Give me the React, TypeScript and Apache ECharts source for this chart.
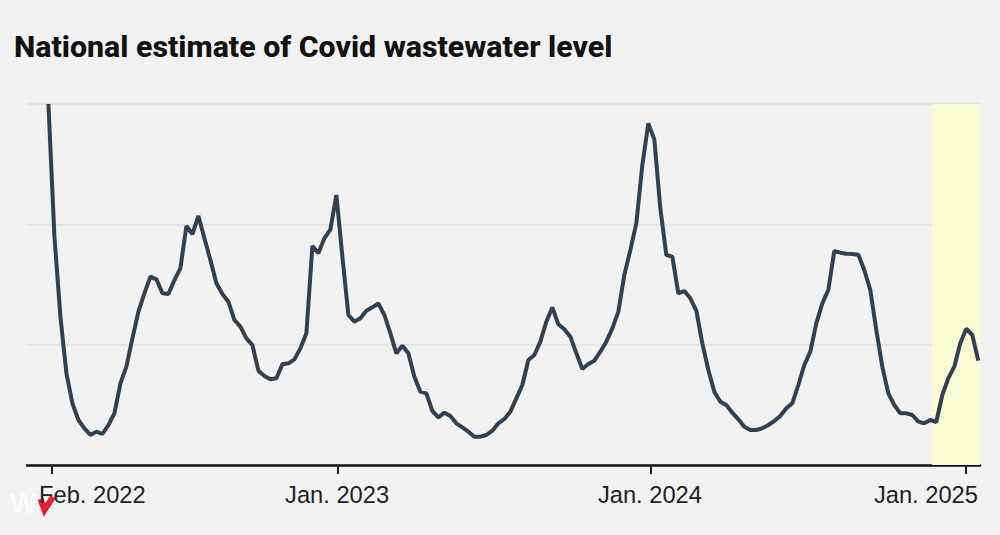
import React, { useEffect, useRef } from "react";
import * as echarts from "echarts";

const TITLE = "National estimate of Covid wastewater level";
const FIRST_WEEK = "2022-01-29";
// Relative wastewater level, one reading per week (the source's y axis carries no numbers)
const levels2022 = [1083,685,445,275,185,135,110,90,100,93,120,155,245,295,380,460,515,565,557,515,513,555,590,717,693,747,680,615,545,513,490,435,415,380,360,283,267,257,260,302,305,317,350,395,657,635,680,707];
const levels2023 = [810,625,450,430,440,463,473,485,450,395,335,358,335,265,220,215,162,143,157,147,125,113,100,85,85,90,103,125,138,160,200,240,315,330,370,430,473,422,407,385,335,288,303,313,340,370,410,460,570,645,725,900];
const levels2024 = [1025,977,770,630,625,515,522,500,463,365,285,220,190,180,157,137,115,105,105,110,120,132,147,170,185,240,300,340,425,485,525,642,637,634,633,631,585,525,405,295,215,180,155,155,150,130,125,135,129,210,260,295,365,409,390,313];
const levels = [...levels2022, ...levels2023, ...levels2024];
const tickDates = ["2022-02-02", "2023-01-02", "2024-01-02", "2025-01-03"];
const tickLabels = ["Feb. 2022", "Jan. 2023", "Jan. 2024", "Jan. 2025"];
const axisStart = "2022-01-04";
const axisEnd = "2025-01-20";
const highlightStart = "2024-11-25";
const yTop = 1083;
const yStep = 361;

const DAY = 86400000;
const t = (s: string) => Date.parse(s + "T00:00:00Z");

export default function App() {
  const ref = useRef<HTMLDivElement>(null);
  useEffect(() => {
    document.body.style.margin = "0";
    const chart = echarts.init(ref.current!, undefined, { renderer: "svg" });
    const data = levels.map((v, i) => [t(FIRST_WEEK) + i * 7 * DAY, v]);
    const ticks = tickDates.map(t);
    const labelStyle = { color: "#222", fontSize: 23.7, fontFamily: "Liberation Sans" };
    chart.setOption({
      animation: false,
      backgroundColor: "#f2f2f2",
      title: {
        text: TITLE,
        left: 14,
        top: 31,
        padding: 0,
        textStyle: { color: "#121212", fontSize: 30.3, fontWeight: 800, fontFamily: "Roboto" },
      },
      grid: { left: 27, right: 20, top: 104, bottom: 70 },
      xAxis: {
        type: "value",
        min: t(axisStart),
        max: t(axisEnd),
        axisLine: { show: true, onZero: false, lineStyle: { color: "#111", width: 2.5 } },
        axisTick: { show: true, customValues: ticks, length: 9, lineStyle: { color: "#222", width: 2 } },
        axisLabel: {
          show: true,
          customValues: ticks,
          margin: 18,
          hideOverlap: false,
          showMinLabel: true,
          showMaxLabel: true,
          formatter: (v: number) => {
            const i = ticks.indexOf(v);
            const key = i === 0 ? "first" : i === 3 ? "last" : "mid";
            return `{${key}|${tickLabels[i]}}`;
          },
          rich: {
            mid: { ...labelStyle, padding: [0, 2, 0, 0] },
            first: { ...labelStyle, padding: [0, 0, 0, 81] },
            last: { ...labelStyle, padding: [0, 79, 0, 0] },
          },
        },
        splitLine: { show: false },
      },
      yAxis: {
        type: "value",
        min: 0,
        max: yTop,
        interval: yStep,
        axisLine: { show: false },
        axisTick: { show: false },
        axisLabel: { show: false },
        splitLine: { show: true, lineStyle: { color: "#e4e4e4", width: 2 } },
      },
      series: [
        {
          type: "line",
          data,
          showSymbol: false,
          lineStyle: { color: "#2f4153", width: 4 },
          markArea: {
            silent: true,
            itemStyle: { color: "#fbfbd3" },
            data: [[{ xAxis: t(highlightStart) }, { xAxis: t(axisEnd) }]],
          },
        },
      ],
      graphic: [
        { type: "text", left: 10, top: 489, silent: true, style: { text: "W", fill: "#ffffff", opacity: 0.7, fontSize: 28, fontWeight: 700, fontFamily: "Liberation Sans" } },
        { type: "polyline", silent: true, shape: { points: [[40.5, 499], [44.5, 510], [53, 497]] }, style: { stroke: "#e2202e", lineWidth: 6, fill: "transparent" } },
      ],
    });
    return () => chart.dispose();
  }, []);
  return <div ref={ref} style={{ width: 1000, height: 535 }} />;
}
